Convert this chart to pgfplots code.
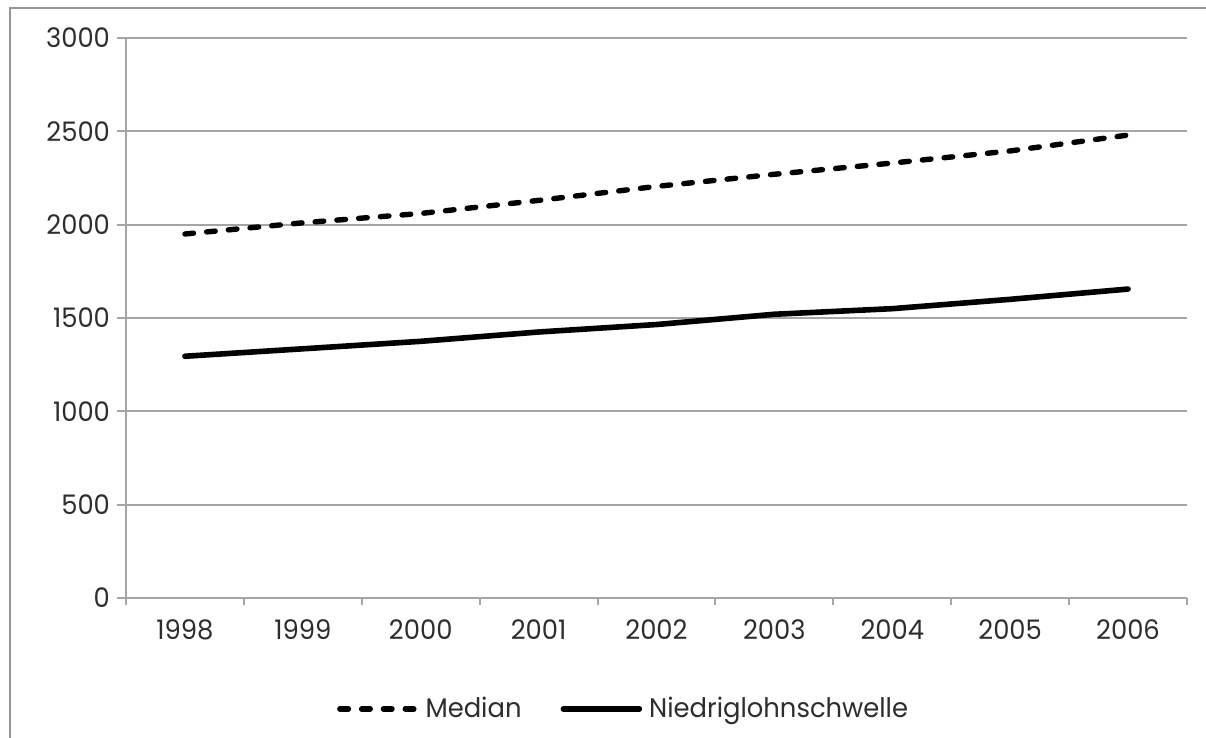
\documentclass[border=0pt]{standalone}
\usepackage{pgfplots}
\pgfplotsset{compat=1.18}
\usepackage{fontspec}
\setmainfont{Poppins}[FakeStretch=0.96]
\definecolor{gridgray}{RGB}{165,165,165}
\definecolor{framegray}{RGB}{150,150,150}
\definecolor{txt}{RGB}{45,45,45}
\begin{document}
\begin{tikzpicture}
\useasboundingbox (0,0) rectangle (603bp,369bp);
\draw[framegray, line width=1.2bp] (5bp,-2bp) -- (5bp,365bp) -- (610bp,365bp);
\begin{axis}[
  at={(63bp,70bp)}, anchor=south west,
  scale only axis, width=530.5bp, height=280bp,
  xmin=-0.5, xmax=8.5, ymin=0, ymax=3000,
  axis lines*=left,
  axis line style={gridgray, line width=1bp},
  xtick={0,1,2,3,4,5,6,7,8},
  xticklabels={1998,1999,2000,2001,2002,2003,2004,2005,2006},
  minor xtick={-0.5,0.5,1.5,2.5,3.5,4.5,5.5,6.5,7.5,8.5},
  major x tick style={draw=none},
  minor x tick style={gridgray, line width=1bp},
  ytick={0,500,1000,1500,2000,2500,3000},
  y tick style={gridgray, line width=1bp},
  tick align=outside,
  major tick length=4.5bp, minor tick length=3.5bp,
  ymajorgrids, grid style={gridgray, line width=0.9bp},
  tick label style={font=\fontsize{13.5}{13.5}\selectfont, text=txt},
  x tick label style={yshift=-3bp},
  /pgf/number format/assume math mode=true,
  /pgf/number format/1000 sep={},
  legend style={at={(0.193,-0.198)}, anchor=west, draw=none, fill=none,
    legend columns=2, font=\fontsize{13.5}{13.5}\selectfont, text=txt,
    nodes={inner xsep=3.5bp},
    /tikz/every even column/.append style={column sep=16bp}},
  legend image code/.code={\draw[#1] (0bp,0bp) -- (38bp,0bp);},
]
\addplot[black, line width=2.7bp, line cap=round, dash pattern=on 4.3bp off 6.6bp] coordinates {
 (0,1950) (1,2010) (2,2060) (3,2130) (4,2205) (5,2270) (6,2330) (7,2395) (8,2480)};
\addlegendentry{Median}
\addplot[black, line width=2.8bp, line cap=round, line join=round] coordinates {
 (0,1295) (1,1335) (2,1375) (3,1425) (4,1465) (5,1520) (6,1550) (7,1600) (8,1655)};
\addlegendentry{Niedriglohnschwelle}
\end{axis}
\end{tikzpicture}
\end{document}
